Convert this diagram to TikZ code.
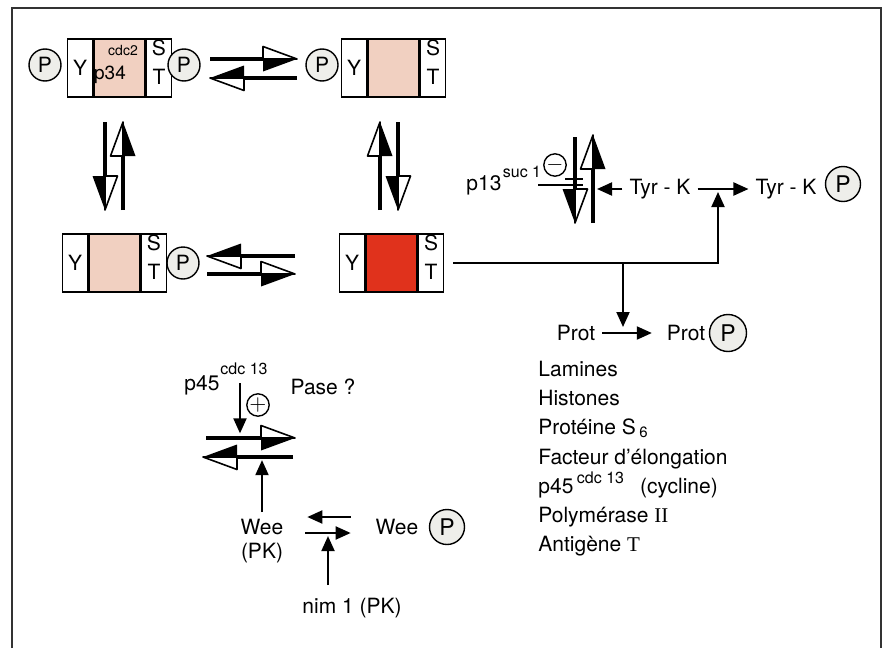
\documentclass[tikz,border=0pt]{standalone}
\usepackage{fontspec}
\setmainfont{TeX Gyre Heros}
\newfontfamily\romanfont{Liberation Serif}
\usetikzlibrary{arrows.meta,positioning}
\definecolor{KinasePink}{HTML}{F1D0C1}
\definecolor{KinaseRed}{HTML}{E0321C}
\definecolor{PhosGrey}{HTML}{EEEEEA}
\definecolor{FrameGrey}{HTML}{333333}

\tikzset{
  every node/.style={font=\fontsize{10.5}{12.6}\selectfont},
  part/.style={draw,line width=0.7pt,minimum height=29pt,inner sep=0pt,anchor=west},
  ypart/.style={part,minimum width=12.5pt},
  midpart/.style={part,minimum width=25.5pt},
  stpart/.style={part,minimum width=12.5pt},
  phos/.style={circle,draw,line width=0.7pt,fill=PhosGrey,minimum size=16pt,inner sep=0pt},
  bigphos/.style={phos,minimum size=17.5pt,font=\fontsize{11.5}{13}\selectfont},
  sign/.style={circle,draw,line width=0.7pt,minimum size=11pt,inner sep=0pt},
  smalltext/.style={font=\fontsize{8}{9}\selectfont,inner sep=0pt},
  listitem/.style={anchor=base west,inner sep=0pt},
  thinarrow/.style={line width=1pt,-{Triangle[length=7.5pt,width=6.5pt]}}
}

\newcommand{\cdcbox}[4]{% name, left x, centre y, colour
  \node[ypart] (#1y) at (#2,#3) {Y};
  \node[midpart,fill=#4] (#1m) at (#1y.east) {};
  \node[stpart] (#1s) at (#1m.east) {};
  \node[inner sep=0pt] at ([yshift=10pt]#1s.center) {S};
  \node[inner sep=0pt] at ([yshift=-4.5pt]#1s.center) {T};
}

% thick reaction arrow, head half filled (right of travel) and half open
\newcommand{\revarrow}[4]{% start x, start y, tip x, tip y
  \pgfmathsetmacro\rdx{sign(#3-#1)}
  \pgfmathsetmacro\rdy{sign(#4-#2)}
  \draw[line width=2pt] (#1,#2) -- ({#3-26*\rdx},{#4-26*\rdy});
  \fill ({#3},{#4}) -- ({#3-34*\rdx},{#4-34*\rdy})
    -- ({#3-34*\rdx-12.5*\rdy},{#4-34*\rdy+12.5*\rdx}) -- cycle;
  \filldraw[fill=white,line width=0.8pt,line join=round] ({#3},{#4}) -- ({#3-34*\rdx},{#4-34*\rdy})
    -- ({#3-34*\rdx+12.5*\rdy},{#4-34*\rdy-12.5*\rdx}) -- cycle;
}

\begin{document}
\begin{tikzpicture}[x=0.5pt,y=-0.5pt]
  \useasboundingbox (0,0) rectangle (883,648);
  \draw[FrameGrey,line width=1pt] (12,648) -- (12,8) -- (881,8) -- (881,648);

  % p34 complexes
  \cdcbox{a}{67}{68}{KinasePink}
  \cdcbox{b}{341}{68}{KinasePink}
  \cdcbox{c}{62}{263}{KinasePink}
  \cdcbox{d}{339}{263}{KinaseRed}
  \node[smalltext,font=\fontsize{7}{8}\selectfont] (cdctwo) at (123,51) {cdc2};
  \node[font=\fontsize{9.5}{11}\selectfont,inner sep=0pt] (pthirtyfour) at (110,75) {p34};
  \node[phos] (pa1) at (45,65) {P};
  \node[phos] (pa2) at (184,65) {P};
  \node[phos] (pb) at (322,65) {P};
  \node[phos] (pc) at (183,263) {P};

  % equilibria between the complexes
  \revarrow{210}{59}{297}{59}
  \revarrow{297}{78}{210}{78}
  \revarrow{105}{122}{105}{210}
  \revarrow{123}{210}{123}{122}
  \revarrow{380}{210}{380}{122}
  \revarrow{398}{122}{398}{210}
  \revarrow{295}{256}{207}{256}
  \revarrow{207}{274}{295}{274}

  % Tyr-K branch
  \node (tyrA) at (660,189) {Tyr - K};
  \node (tyrB) at (786,189) {Tyr - K};
  \node[bigphos] (ptyr) at (843,184) {P};
  \draw[thinarrow] (tyrA) -- (tyrB);
  \coordinate (tyrstop) at (597,189);
  \draw[thinarrow] (tyrA.west) -- (tyrstop);
  \coordinate (tyrhit) at (718,192);
  \draw[thinarrow] ([xshift=4.5pt]ds.east) -| (tyrhit);

  % Prot branch
  \node (protA) at (576,333) {Prot};
  \node (protB) at (686,333) {Prot};
  \node[bigphos,minimum size=18.5pt] (pprot) at (728,333) {P};
  \draw[thinarrow,shorten >=4pt] (protA) -- (protB);
  \coordinate (prothit) at (623,327);
  \draw[thinarrow] (prothit |- ds.east) -- (prothit);

  % p13 inhibition
  \node (pthirteen) at (484,185) {p13};
  \node[smalltext] (suc) at (522,172) {suc 1};
  \node[sign] (minus) at (555,165) {$-$};
  \revarrow{575}{137}{575}{223}
  \revarrow{593}{223}{593}{135}
  \draw[line width=1pt] (538,185) -- (583,185) (565,179) -- (583,179);

  % substrates
  \foreach \txt [count=\i] in {Lamines,Histones,{Protéine S\,\raisebox{-1.5pt}{\fontsize{7.5}{8}\selectfont 6}},Facteur d'élongation,{p45\,\raisebox{5pt}{\fontsize{8}{9}\selectfont cdc 13}\hspace{8pt}(cycline)},{Polymérase {\romanfont II}},{Antigène {\romanfont T}}}
    \node[listitem] (item\i) at (538,{347.3+29.2*\i}) {\txt};

  % p45 activation and Wee
  \node (pfortyfive) at (202,385) {p45};
  \node[smalltext] (cdcthirteen) at (244,369) {cdc 13};
  \node (pase) at (323,387) {Pase ?};
  \node[sign] (plus) at (258,405) {$+$};
  \draw[thinarrow] ([shift={(-4,8)}]cdcthirteen.south) -- ++(0,50);
  \revarrow{206}{438}{295}{438}
  \revarrow{293}{457}{203}{457}
  \node (wee) at (262,527) {Wee};
  \node (weepk) at (262,553) {(PK)};
  \draw[thinarrow] (wee.north) -- ++(0,-52);
  \node (weeb) at (397,527) {Wee};
  \node[bigphos] (pwee) at (447,527) {P};
  \draw[thinarrow] ([shift={(-18,-10)}]weeb.west) -- ([shift={(17,-10)}]wee.east);
  \draw[thinarrow] ([shift={(15,6)}]wee.east) -- ([shift={(-18,6)}]weeb.west);
  \node (nim) at (352,608) {nim 1 (PK)};
  \draw[thinarrow] ([shift={(-24,-6)}]nim.north) -- ++(0,-49);
\end{tikzpicture}
\end{document}
